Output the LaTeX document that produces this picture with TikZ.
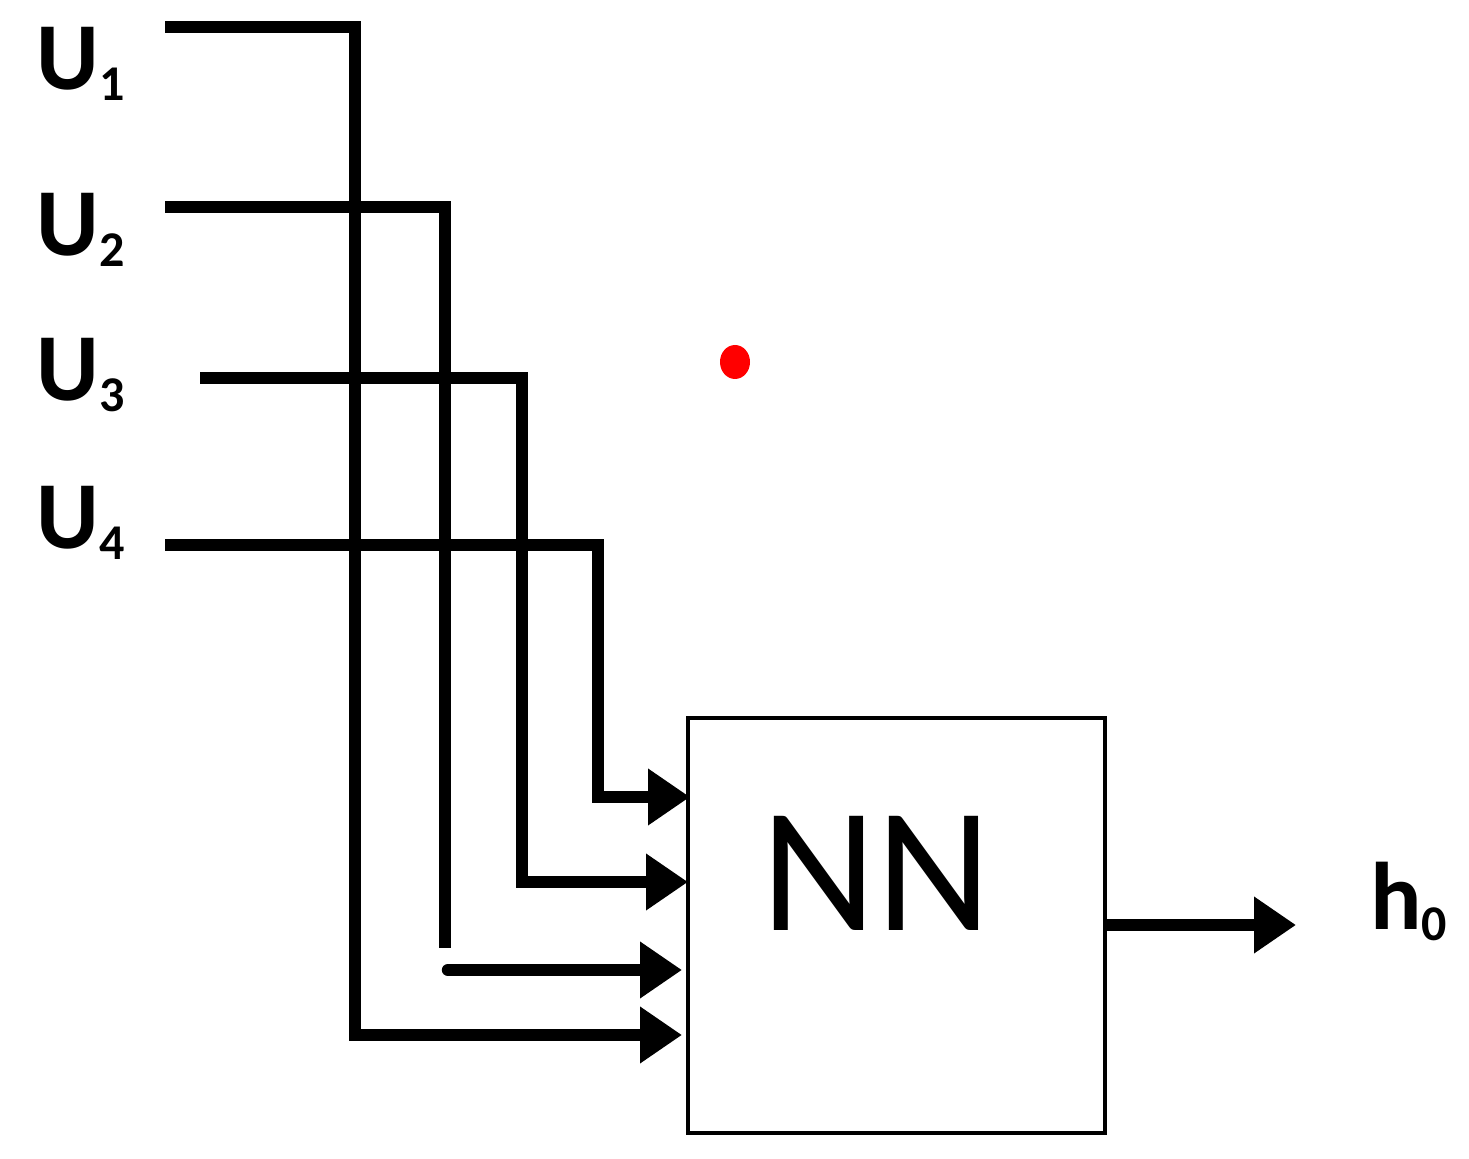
\documentclass[tikz,border=0pt]{standalone}
\usepackage{fontspec}
\setmainfont{Carlito}
\usetikzlibrary{arrows.meta}
\newcommand\mysub[1]{\raisebox{-5.5pt}{\fontsize{25}{26}\selectfont #1}}
\begin{document}
\begin{tikzpicture}[x=0.5pt,y=-0.5pt,
  wire/.style={line width=6.2pt, line join=miter},
  inarrow/.style={wire, -{Triangle[length=21pt,width=27pt]}},
  lab/.style={font=\fontsize{48}{50}\selectfont\bfseries, inner sep=0pt, anchor=base west},
  boxstyle/.style={draw, line width=2pt, minimum width=208.5pt, minimum height=207.5pt, inner sep=0pt}]
\useasboundingbox (0,0) rectangle (1469,1159);
% labels
\node[lab] (u1) at (36,90) {U\mysub{1}};
\node[lab] (u2) at (36,256) {U\mysub{2}};
\node[lab] (u3) at (36,401) {U\mysub{3}};
\node[lab] (u4) at (36,549) {U\mysub{4}};
\node[lab] (h0) at (1370,930) {h\mysub{0}};
% box
\node[boxstyle] (nn) at (896.5,925.5) {};
\node[font=\fontsize{89}{90}\selectfont, inner sep=0pt] (nnt) at (876,873) {NN};
% wire coordinates
\coordinate (a1) at (165,27);
\coordinate (a2) at (165,207);
\coordinate (a3) at (200,378);
\coordinate (a4) at (165,545);
\coordinate (e1) at (682,1035);
\coordinate (e2) at (682,970);
\coordinate (e3) at (688,882);
\coordinate (e4) at (690,797);
\coordinate (s2) at (448,970);
\coordinate (b2) at (445,948);
% wires
\draw[inarrow] (a1) -| (355,1035) -- (e1);
\draw[wire] (a2) -| (b2);
\draw[inarrow, line cap=round] (s2) -- (e2);
\draw[inarrow] (a3) -| (522,882) -- (e3);
\draw[inarrow] (a4) -| (598,797) -- (e4);
% output
\coordinate (o1) at (1296,925);
\draw[inarrow] (nn.east |- o1) -- (o1);
% red dot
\fill[red] (735,362) ellipse [x radius=15, y radius=17];
\end{tikzpicture}
\end{document}
